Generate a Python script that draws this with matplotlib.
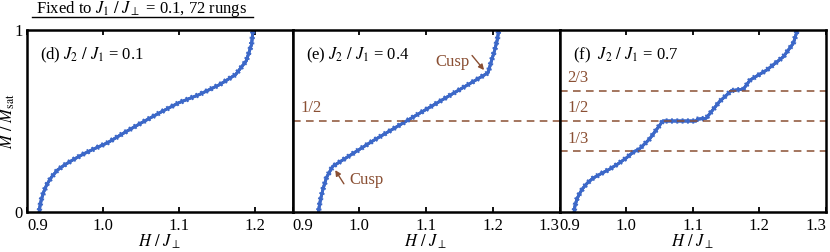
import matplotlib
matplotlib.use("Agg")
import matplotlib.pyplot as plt
from matplotlib import patheffects
from matplotlib.lines import Line2D

plt.rcParams["font.family"] = ["Liberation Serif", "DejaVu Serif"]
plt.rcParams["mathtext.fontset"] = "stix"
plt.rcParams["font.size"] = 12

BLUE = "#3c68c8"
BROWN = "#8a4f33"

# magnetization curves (H / J_perp, M / M_sat)
h_d = [0.916, 0.917, 0.919, 0.922, 0.926, 0.932, 0.940, 0.950, 0.962, 0.975,
       0.990, 1.006, 1.030, 1.053, 1.077, 1.100, 1.127, 1.154, 1.175, 1.189,
       1.196, 1.198]
m_d = [0.0, 0.03, 0.07, 0.11, 0.15, 0.19, 0.23, 0.26, 0.29, 0.32,
       0.35, 0.38, 0.44, 0.495, 0.55, 0.60, 0.645, 0.70, 0.755, 0.83,
       0.92, 1.0]

h_e = [0.939, 0.940, 0.942, 0.946, 0.951, 0.960, 0.990, 1.020, 1.050, 1.080,
       1.110, 1.140, 1.170, 1.193, 1.198, 1.203, 1.207, 1.209]
m_e = [0.0, 0.03, 0.07, 0.13, 0.19, 0.25, 0.32, 0.39, 0.455, 0.52,
       0.585, 0.65, 0.715, 0.765, 0.83, 0.89, 0.95, 1.0]

h_f = [0.922, 0.923, 0.926, 0.930, 0.935, 0.942, 0.950, 0.962, 0.975, 0.988,
       1.000, 1.012, 1.018, 1.035, 1.055, 1.105, 1.107, 1.120, 1.140, 1.158,
       1.176, 1.186, 1.211, 1.236, 1.251, 1.257]
m_f = [0.0, 0.03, 0.07, 0.10, 0.13, 0.16, 0.185, 0.21, 0.235, 0.265,
       0.296, 0.333, 0.34, 0.40, 0.5, 0.5, 0.51, 0.515, 0.606, 0.667,
       0.675, 0.725, 0.78, 0.853, 0.927, 1.0]

panel_labels = [r"(d) $J_2\ /\ J_1$ = 0.1", r"(e) $J_2\ /\ J_1$ = 0.4",
                r"(f)  $J_2\ /\ J_1$ = 0.7"]
xlims = [(0.9, 1.25), (0.9, 1.3), (0.9, 1.3)]
plateaus = [[], [0.5], [1 / 3, 0.5, 2 / 3]]
plateau_texts = [[], ["1/2"], ["1/3", "1/2", "2/3"]]
ticks = [0.9, 1.0, 1.1, 1.2, 1.3]

fig = plt.figure(figsize=(8.3, 2.52), dpi=100)
lefts = [27, 292.5, 559.5]
rights = [292.5, 559.5, 826]
curves = [(h_d, m_d), (h_e, m_e), (h_f, m_f)]

steps = [patheffects.withTickedStroke(spacing=3.8, angle=90, length=0.5, linewidth=1.4),
         patheffects.withTickedStroke(spacing=3.8, angle=-90, length=0.5, linewidth=1.4),
         patheffects.Normal()]

axes = []
for i in range(3):
    ax = fig.add_axes([lefts[i] / 830, 40 / 252, (rights[i] - lefts[i]) / 830, 182 / 252])
    axes.append(ax)
    h, m = curves[i]
    ax.plot(h, m, color=BLUE, lw=2.0, solid_capstyle="butt", path_effects=steps)
    for y in plateaus[i]:
        ax.axhline(y, color=BROWN, lw=1.1, dashes=(5, 3.5))
    ax.set_xlim(*xlims[i])
    ax.set_ylim(0, 1)
    tk = [t for t in ticks if xlims[i][0] - 1e-9 <= t <= xlims[i][1] + 1e-9]
    ax.set_xticks(tk)
    labs = ax.set_xticklabels(["%.1f" % t for t in tk])
    labs[0].set_horizontalalignment("left")
    if tk[-1] == xlims[i][1]:
        labs[-1].set_horizontalalignment("right")
    ax.tick_params(axis="x", direction="in", top=True, length=3.5, width=1.3, pad=4)
    for s in ax.spines.values():
        s.set_linewidth(1.8)
    if i == 0:
        ax.set_yticks([0, 1])
        ax.set_yticklabels(["0", "1"])
        ax.tick_params(axis="y", length=0, pad=3)
        ax.set_ylabel(r"$M\ /\ M_{\rm sat}$", labelpad=-2)
    else:
        ax.set_yticks([])
    ax.set_xlabel(r"$H\ /\ J_{\perp}$", labelpad=-1)
    ax.text(0.05, 0.86, panel_labels[i], transform=ax.transAxes, ha="left", va="center")
    for y, t in zip(plateaus[i], plateau_texts[i]):
        ax.text(0.03, y + 0.07, t, transform=ax.get_yaxis_transform(), color=BROWN,
                ha="left", va="center")

# cusp annotations in panel (e)
ax = axes[1]
arrow = dict(arrowstyle="-|>", color=BROWN, lw=1.0, mutation_scale=8, shrinkA=0, shrinkB=0)
ax.annotate("", xy=(1.187, 0.78), xytext=(1.169, 0.86), arrowprops=arrow)
ax.text(1.165, 0.825, "Cusp", color=BROWN, ha="right", va="center")
ax.annotate("", xy=(0.964, 0.23), xytext=(0.977, 0.155), arrowprops=arrow)
ax.text(0.985, 0.175, "Cusp", color=BROWN, ha="left", va="center")

fig.text(142 / 830, 1 - 9 / 252, r"Fixed to $J_1\ /\ J_{\perp}$ = 0.1, 72 rungs",
         ha="center", va="center")
fig.add_artist(Line2D([32 / 830, 253 / 830], [1 - 17 / 252, 1 - 17 / 252],
                      color="black", lw=1.0))

fig.savefig("out.png", dpi=100)
